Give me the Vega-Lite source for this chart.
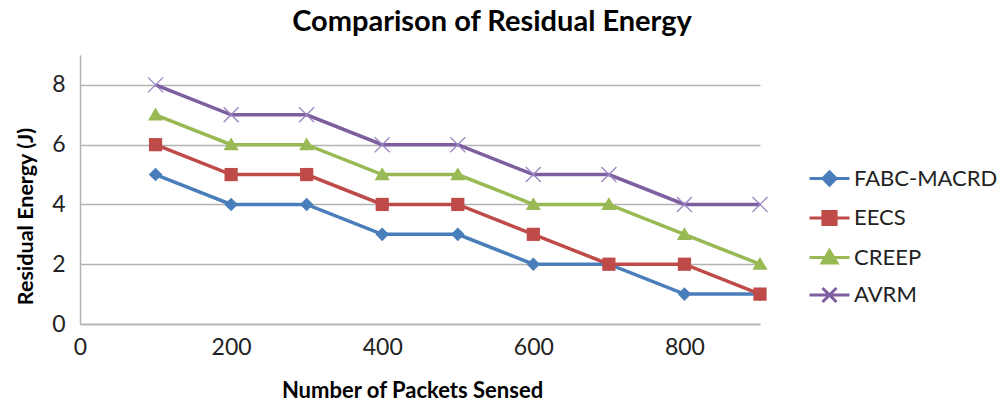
{
  "$schema": "https://vega.github.io/schema/vega-lite/v6.json",
  "width": 680,
  "height": 269,
  "autosize": "none",
  "padding": {"left": 80, "top": 55, "right": 245, "bottom": 84},
  "background": "white",
  "title": {
    "text": "Comparison of Residual Energy",
    "font": "Lato",
    "fontSize": 29,
    "fontWeight": "bold",
    "color": "#000000",
    "anchor": "middle",
    "frame": "group",
    "dx": 72,
    "offset": 18
  },
  "config": {
    "view": {"stroke": null},
    "font": "Lato"
  },
  "data": {
    "values": [
      {"packets": 100, "energy": 5, "series": "FABC-MACRD"},
      {"packets": 200, "energy": 4, "series": "FABC-MACRD"},
      {"packets": 300, "energy": 4, "series": "FABC-MACRD"},
      {"packets": 400, "energy": 3, "series": "FABC-MACRD"},
      {"packets": 500, "energy": 3, "series": "FABC-MACRD"},
      {"packets": 600, "energy": 2, "series": "FABC-MACRD"},
      {"packets": 700, "energy": 2, "series": "FABC-MACRD"},
      {"packets": 800, "energy": 1, "series": "FABC-MACRD"},
      {"packets": 900, "energy": 1, "series": "FABC-MACRD"},
      {"packets": 100, "energy": 6, "series": "EECS"},
      {"packets": 200, "energy": 5, "series": "EECS"},
      {"packets": 300, "energy": 5, "series": "EECS"},
      {"packets": 400, "energy": 4, "series": "EECS"},
      {"packets": 500, "energy": 4, "series": "EECS"},
      {"packets": 600, "energy": 3, "series": "EECS"},
      {"packets": 700, "energy": 2, "series": "EECS"},
      {"packets": 800, "energy": 2, "series": "EECS"},
      {"packets": 900, "energy": 1, "series": "EECS"},
      {"packets": 100, "energy": 7, "series": "CREEP"},
      {"packets": 200, "energy": 6, "series": "CREEP"},
      {"packets": 300, "energy": 6, "series": "CREEP"},
      {"packets": 400, "energy": 5, "series": "CREEP"},
      {"packets": 500, "energy": 5, "series": "CREEP"},
      {"packets": 600, "energy": 4, "series": "CREEP"},
      {"packets": 700, "energy": 4, "series": "CREEP"},
      {"packets": 800, "energy": 3, "series": "CREEP"},
      {"packets": 900, "energy": 2, "series": "CREEP"},
      {"packets": 100, "energy": 8, "series": "AVRM"},
      {"packets": 200, "energy": 7, "series": "AVRM"},
      {"packets": 300, "energy": 7, "series": "AVRM"},
      {"packets": 400, "energy": 6, "series": "AVRM"},
      {"packets": 500, "energy": 6, "series": "AVRM"},
      {"packets": 600, "energy": 5, "series": "AVRM"},
      {"packets": 700, "energy": 5, "series": "AVRM"},
      {"packets": 800, "energy": 4, "series": "AVRM"},
      {"packets": 900, "energy": 4, "series": "AVRM"}
    ]
  },
  "encoding": {
    "x": {
      "field": "packets",
      "type": "quantitative",
      "scale": {"domain": [0, 900], "nice": false, "zero": true},
      "axis": {
        "title": "Number of Packets Sensed",
        "values": [0, 200, 400, 600, 800],
        "grid": false,
        "ticks": false,
        "domainColor": "#b3b3b3",
        "domainWidth": 1.5,
        "labelFont": "Lato",
        "labelFontSize": 23,
        "labelColor": "#222222",
        "labelPadding": 12,
        "labelFlush": false,
        "titleFont": "Lato",
        "titleFontSize": 22,
        "titleFontWeight": "bold",
        "titleColor": "#000000",
        "titlePadding": 21,
        "titleX": 332
      }
    },
    "y": {
      "field": "energy",
      "type": "quantitative",
      "scale": {"domain": [0, 9], "nice": false},
      "axis": {
        "title": "Residual Energy (J)",
        "values": [0, 2, 4, 6, 8],
        "grid": true,
        "gridColor": "#b3b3b3",
        "gridWidth": 1.5,
        "ticks": false,
        "domainColor": "#b3b3b3",
        "domainWidth": 1.5,
        "labelFont": "Lato",
        "labelFontSize": 23,
        "labelColor": "#222222",
        "labelPadding": 15,
        "labelFlush": false,
        "titleFont": "Lato",
        "titleFontSize": 21.5,
        "titleFontWeight": "bold",
        "titleColor": "#000000",
        "titlePadding": 14,
        "titleY": 161
      }
    }
  },
  "layer": [
    {
      "mark": {"type": "line", "strokeWidth": 3.5},
      "encoding": {
        "color": {
          "field": "series",
          "type": "nominal",
          "sort": ["FABC-MACRD", "EECS", "CREEP", "AVRM"],
          "scale": {
            "domain": ["FABC-MACRD", "EECS", "CREEP", "AVRM"],
            "range": ["#4a7ebb", "#be4b48", "#98b954", "#7d5fa0"]
          },
          "legend": {
            "title": null,
            "orient": "none",
            "legendX": 728,
            "legendY": 102,
            "symbolSize": 1600,
            "symbolStrokeWidth": 3,
            "rowPadding": 4.5,
            "labelOffset": 3,
            "labelFont": "Lato",
            "labelFontSize": 22,
            "labelColor": "#222222",
            "labelLimit": 300,
            "encode": {
              "symbols": {
                "update": {
                  "shape": {"signal": "datum.value == 'FABC-MACRD' ? 'M-1,0H1M0,-0.33L0.33,0L0,0.33L-0.33,0Z' : datum.value == 'EECS' ? 'M-1,0H1M-0.33,-0.33H0.33V0.33H-0.33Z' : datum.value == 'CREEP' ? 'M-1,0H1M0,-0.35L0.37,0.27H-0.37Z' : 'M-1,0H1M-0.35,-0.35L0.35,0.35M-0.35,0.35L0.35,-0.35'"},
                  "size": {"value": 1600},
                  "strokeWidth": {"value": 3},
                  "opacity": {"value": 1},
                  "stroke": {"signal": "datum.value == 'FABC-MACRD' ? '#4a7ebb' : datum.value == 'EECS' ? '#be4b48' : datum.value == 'CREEP' ? '#98b954' : '#7d5fa0'"},
                  "fill": {"signal": "datum.value == 'FABC-MACRD' ? '#4a7ebb' : datum.value == 'EECS' ? '#be4b48' : datum.value == 'CREEP' ? '#98b954' : 'transparent'"}
                }
              }
            }
          }
        }
      }
    },
    {
      "transform": [{"filter": "datum.series == 'FABC-MACRD'"}],
      "mark": {"type": "point", "filled": true, "size": 400, "opacity": 1, "color": "#4a7ebb", "shape": "M0,-0.68L0.68,0L0,0.68L-0.68,0Z"}
    },
    {
      "transform": [{"filter": "datum.series == 'EECS'"}],
      "mark": {"type": "point", "filled": true, "size": 400, "opacity": 1, "color": "#be4b48", "shape": "M-0.66,-0.66H0.66V0.66H-0.66Z"}
    },
    {
      "transform": [{"filter": "datum.series == 'CREEP'"}],
      "mark": {"type": "point", "filled": true, "size": 400, "opacity": 1, "color": "#98b954", "shape": "M0,-0.72L0.76,0.56H-0.76Z"}
    },
    {
      "transform": [{"filter": "datum.series == 'AVRM'"}],
      "mark": {"type": "point", "filled": false, "size": 400, "opacity": 1, "strokeWidth": 1.3, "color": "#9a86c2", "shape": "M-0.75,-0.75L0.75,0.75M-0.75,0.75L0.75,-0.75"}
    }
  ]
}
